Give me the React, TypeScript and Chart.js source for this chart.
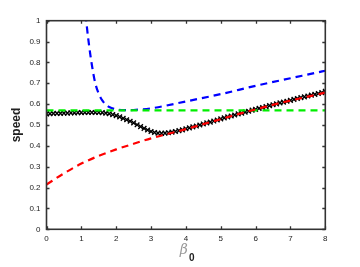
import React, { useEffect, useRef } from "react";
import { Chart, registerables } from "chart.js";

Chart.register(...registerables);

const xTicks = [0, 1, 2, 3, 4, 5, 6, 7, 8];
const yTicks = [0, 0.1, 0.2, 0.3, 0.4, 0.5, 0.6, 0.7, 0.8, 0.9, 1];

const blueBeta = [1.12, 1.2, 1.3, 1.4, 1.5, 1.6, 1.7, 1.8, 2.0, 2.2, 2.5, 3, 4, 5, 6, 7, 8];
const blueSpeed = [1.03, 0.91, 0.79, 0.7, 0.65, 0.618, 0.598, 0.586, 0.575, 0.571, 0.572, 0.58, 0.613, 0.648, 0.688, 0.724, 0.76];

const greenBeta = [0, 8];
const greenSpeed = [0.57, 0.57];

const redBeta = [0, 0.5, 1, 1.5, 2, 2.5, 3, 3.5, 4, 4.5, 5, 5.5, 6, 6.5, 7, 7.5, 8];
const redSpeed = [0.215, 0.268, 0.315, 0.352, 0.383, 0.41, 0.436, 0.458, 0.48, 0.504, 0.528, 0.552, 0.575, 0.597, 0.617, 0.636, 0.655];

const blackBeta = [
  0, 0.1, 0.2, 0.3, 0.4, 0.5, 0.6, 0.7, 0.8, 0.9, 1, 1.1, 1.2, 1.3, 1.4, 1.5, 1.6, 1.7, 1.8, 1.9,
  2, 2.1, 2.2, 2.3, 2.4, 2.5, 2.6, 2.7, 2.8, 2.9, 3, 3.1, 3.2, 3.3, 3.4, 3.5, 3.6, 3.7, 3.8, 3.9,
  4, 4.1, 4.2, 4.3, 4.4, 4.5, 4.6, 4.7, 4.8, 4.9, 5, 5.1, 5.2, 5.3, 5.4, 5.5, 5.6, 5.7, 5.8, 5.9,
  6, 6.1, 6.2, 6.3, 6.4, 6.5, 6.6, 6.7, 6.8, 6.9, 7, 7.1, 7.2, 7.3, 7.4, 7.5, 7.6, 7.7, 7.8, 7.9, 8,
];
const blackSpeed = [
  0.553, 0.554, 0.555, 0.556, 0.556, 0.557, 0.557, 0.558, 0.558, 0.559, 0.559, 0.56, 0.56, 0.56, 0.56, 0.56, 0.559, 0.557, 0.554, 0.55,
  0.545, 0.539, 0.532, 0.525, 0.518, 0.51, 0.501, 0.492, 0.484, 0.476, 0.469, 0.464, 0.461, 0.46, 0.461, 0.463, 0.466, 0.469, 0.473, 0.477,
  0.482, 0.486, 0.491, 0.495, 0.5, 0.505, 0.51, 0.514, 0.519, 0.524, 0.529, 0.534, 0.539, 0.543, 0.548, 0.553, 0.557, 0.562, 0.566, 0.571,
  0.575, 0.58, 0.584, 0.588, 0.593, 0.597, 0.601, 0.606, 0.61, 0.614, 0.618, 0.623, 0.627, 0.631, 0.635, 0.639, 0.643, 0.647, 0.651, 0.655, 0.662,
];

const pts = (xs: number[], ys: number[]) => xs.map((x, i) => ({ x, y: ys[i] }));

const framePlugin = {
  id: "frame",
  afterDraw(chart: any) {
    const { ctx, chartArea: a, scales } = chart;
    ctx.save();
    ctx.strokeStyle = "#333";
    ctx.lineWidth = 1.6;
    ctx.strokeRect(a.left, a.top, a.right - a.left, a.bottom - a.top);
    ctx.lineWidth = 1.3;
    ctx.beginPath();
    const tl = 3;
    xTicks.forEach((v) => {
      const px = Math.round(scales.x.getPixelForValue(v)) + 0.5;
      ctx.moveTo(px, a.bottom);
      ctx.lineTo(px, a.bottom - tl);
      ctx.moveTo(px, a.top);
      ctx.lineTo(px, a.top + tl);
    });
    yTicks.forEach((v) => {
      const py = Math.round(scales.y.getPixelForValue(v)) + 0.5;
      ctx.moveTo(a.left, py);
      ctx.lineTo(a.left + tl, py);
      ctx.moveTo(a.right, py);
      ctx.lineTo(a.right - tl, py);
    });
    ctx.stroke();
    ctx.fillStyle = "#222";
    ctx.textBaseline = "middle";
    ctx.textAlign = "center";
    ctx.save();
    ctx.translate(17, (a.top + a.bottom) / 2);
    ctx.rotate(-Math.PI / 2);
    ctx.font = "bold 12px 'Liberation Sans', Arial, sans-serif";
    ctx.fillText("speed", 0, 0);
    ctx.restore();
    const cx = (a.left + a.right) / 2;
    ctx.font = "italic 14px 'DejaVu Serif', serif";
    ctx.fillStyle = "#999";
    ctx.fillText("β", cx - 2, 250);
    ctx.fillStyle = "#222";
    ctx.font = "bold 10px 'Liberation Sans', Arial, sans-serif";
    ctx.fillText("0", cx + 6, 258);
    ctx.restore();
  },
};

export default function App() {
  const ref = useRef<HTMLCanvasElement>(null);
  useEffect(() => {
    document.body.style.margin = "0";
    const tickFont = { family: "'Liberation Sans', Arial, sans-serif", size: 8 };
    const dashed = (data: any, color: string) => ({
      data,
      borderColor: color,
      backgroundColor: color,
      borderWidth: 2.2,
      borderDash: [7, 5],
      pointRadius: 0,
      showLine: true,
      cubicInterpolationMode: "monotone",
      fill: false,
    });
    const chart = new Chart(ref.current!, {
      type: "scatter",
      data: {
        datasets: [
          dashed(pts(redBeta, redSpeed), "#ff0000"),
          dashed(pts(greenBeta, greenSpeed), "#00ee00"),
          dashed(pts(blueBeta, blueSpeed), "#0000ff"),
          {
            data: pts(blackBeta, blackSpeed),
            borderColor: "#000",
            backgroundColor: "#000",
            pointStyle: "crossRot",
            pointRadius: 3.3,
            borderWidth: 1.4,
            showLine: false,
          },
        ] as any,
      },
      options: {
        animation: false,
        responsive: false,
        layout: { padding: { left: 0, top: 20.7, right: 34.7, bottom: 0 } },
        plugins: { legend: { display: false }, tooltip: { enabled: false } },
        scales: {
          x: {
            type: "linear",
            min: 0,
            max: 8,
            afterFit: (s: any) => { s.height = 37.7; },
            grid: { display: false, drawTicks: false },
            border: { display: false },
            ticks: { stepSize: 1, padding: 5, color: "#222", font: tickFont },
          },
          y: {
            type: "linear",
            min: 0,
            max: 1,
            afterFit: (s: any) => { s.width = 46.5; },
            grid: { display: false, drawTicks: false },
            border: { display: false },
            ticks: {
              stepSize: 0.1,
              padding: 6,
              color: "#222",
              font: tickFont,
              callback: (v: any) => String(Math.round(Number(v) * 10) / 10),
            },
          },
        },
      },
      plugins: [framePlugin],
    });
    return () => chart.destroy();
  }, []);
  return <canvas ref={ref} width={360} height={267} style={{ display: "block" }} />;
}
